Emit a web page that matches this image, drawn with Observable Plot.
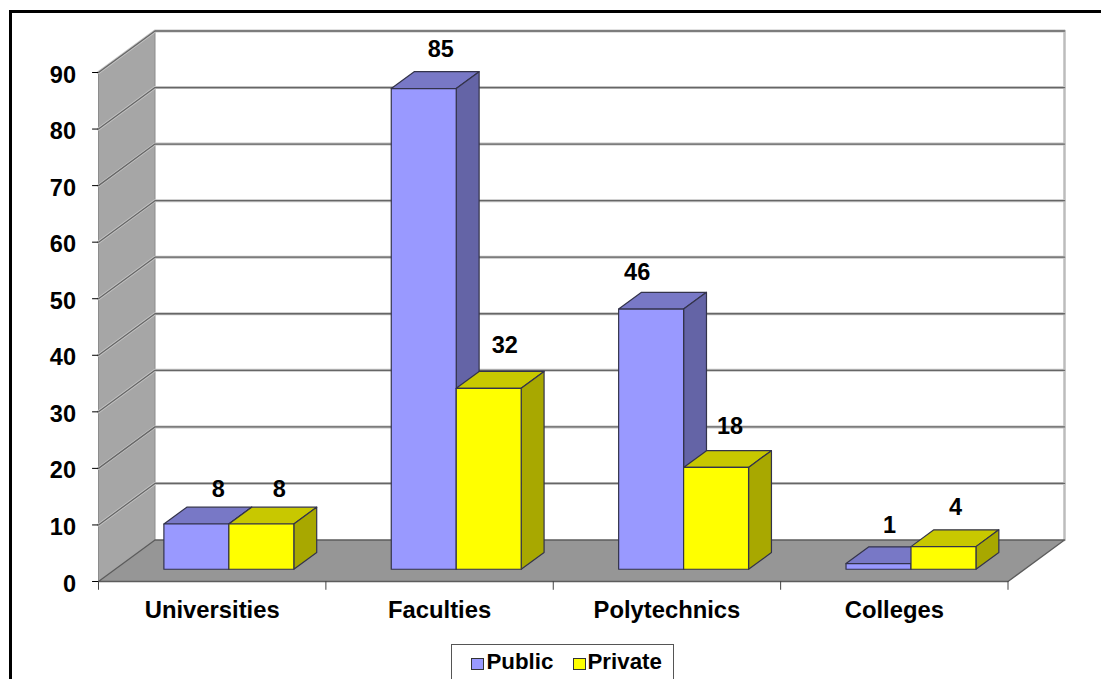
<!DOCTYPE html>
<html>
<head>
<meta charset="utf-8">
<script src="https://cdn.jsdelivr.net/npm/d3@7"></script>
<script src="https://cdn.jsdelivr.net/npm/@observablehq/plot@0.6"></script>
<style>
  html, body { margin: 0; padding: 0; background: #fff; }
  #figure {
    position: relative; width: 1101px; height: 679px; overflow: hidden;
    font-family: "Liberation Sans", Arial, sans-serif; font-weight: bold; color: #000;
  }
  #frame {
    position: absolute; left: 9px; top: 10px; width: 1200px; height: 800px;
    border: 3px solid #000; box-sizing: border-box;
  }
  #figure svg { position: absolute; left: 0; top: 0; background: transparent; }
  #legend {
    position: absolute; left: 451px; top: 644px; width: 223px; height: 50px;
    box-sizing: border-box; border: 1.5px solid #555; background: #fff; font-size: 22.3px;
  }
  #legend span { position: absolute; top: 4px; line-height: 26px; }
  #legend i {
    position: absolute; top: 12.5px; width: 11px; height: 10px;
    border: 1px solid #333; box-sizing: content-box;
  }
</style>
</head>
<body>
<div id="figure">
  <div id="frame"></div>
  <div id="legend"></div>
</div>
<script>
const categories = ["Universities", "Faculties", "Polytechnics", "Colleges"];
const publicValues = [8, 85, 46, 1];
const privateValues = [8, 32, 18, 4];
const seriesNames = ["Public", "Private"];
const yTicks = [0, 10, 20, 30, 40, 50, 60, 70, 80, 90];
const categoryEdges = [0, 1, 2, 3, 4];

// Oblique projection: one unit of depth moves a point this far in data units.
const depthX = 0.2485;
const depthY = 7.34;
const project = (c, v, d) => ({x: c + d * depthX, y: v + d * depthY});

const barWidth = 1 / 3.5;     // category share of one bar (gap width 75%)
const barStart = 0.75 / 3.5;  // space before the first bar in a category
const depthFront = 0.295, depthBack = 0.7;

const shades = {
  Public: {front: "#9999ff", top: "#7878c6", side: "#6464a6"},
  Private: {front: "#ffff00", top: "#c8c800", side: "#a8a800"}
};
// Label nudges in pixels from the top-front centre of each bar.
const labelNudge = {
  Public: [[22, -35], [17, -39], [-14, -37], [11, -38.5]],
  Private: [[18, -35], [16, -42.5], [14, -41], [12, -39.5]]
};

function polygon(rows, id, fill, corners) {
  corners.forEach(([c, v, d]) => rows.push({id, fill, ...project(c, v, d)}));
}

const barFaces = [];
categories.forEach((name, i) => {
  [publicValues, privateValues].forEach((values, s) => {
    const key = seriesNames[s], v = values[i], tone = shades[key];
    const x0 = i + barStart + s * barWidth, x1 = x0 + barWidth;
    const f = depthFront, b = depthBack;
    polygon(barFaces, `${name}-${key}-top`, tone.top, [[x0, v, f], [x1, v, f], [x1, v, b], [x0, v, b]]);
    polygon(barFaces, `${name}-${key}-side`, tone.side, [[x1, 0, f], [x1, v, f], [x1, v, b], [x1, 0, b]]);
    polygon(barFaces, `${name}-${key}-front`, tone.front, [[x0, 0, f], [x1, 0, f], [x1, v, f], [x0, v, f]]);
  });
});

const sideWall = [];
polygon(sideWall, "wall", "#a6a6a6", [[0, 0, 0], [0, 90, 0], [0, 90, 1], [0, 0, 1]]);
const floor = [];
polygon(floor, "floor", "#969696", [[0, 0, 0], [4, 0, 0], [4, 0, 1], [0, 0, 1]]);

const gridLines = yTicks.filter(v => v > 0).flatMap(v => [
  {v, ...project(0, v, 0)}, {v, ...project(0, v, 1)}, {v, ...project(4, v, 1)}
]);
const backRight = [project(4, 0, 1), project(4, 90, 1)];

const valueLabels = seriesNames.flatMap((key, s) =>
  categories.map((name, i) => {
    const v = (s ? privateValues : publicValues)[i];
    const at = project(i + barStart + (s + 0.5) * barWidth, v, depthFront);
    const [dx, dy] = labelNudge[key][i];
    return Plot.text([at], {
      x: "x", y: "y", dx, dy, text: () => String(v),
      fontSize: 23.5, fontWeight: "bold", fill: "#000"
    });
  })
);

const face = (rows, opts) => Plot.line(rows, {x: "x", y: "y", z: "id", curve: "linear-closed", ...opts});

const chart = Plot.plot({
  width: 1101, height: 640,
  marginLeft: 98, marginRight: 93.5, marginTop: 72, marginBottom: 59,
  style: {fontFamily: '"Liberation Sans", Arial, sans-serif', background: "transparent", overflow: "visible"},
  x: {domain: [0, 4]},
  y: {domain: [0, 90]},
  color: {type: "identity"},
  marks: [
    face(sideWall, {fill: "fill", stroke: "#8c8c8c", strokeWidth: 1}),
    Plot.line(backRight, {x: "x", y: "y", stroke: "#bcbcbc", strokeWidth: 2.5}),
    Plot.line(gridLines, {x: "x", y: "y", z: "v", stroke: "#c4c4c4", strokeWidth: 3}),
    Plot.line(gridLines, {x: "x", y: "y", z: "v", stroke: "#666", strokeWidth: 1.3}),
    face(floor, {fill: "fill", stroke: "#5c5c5c", strokeWidth: 1.3}),
    face(barFaces, {fill: "fill", stroke: "#33334a", strokeWidth: 1.2}),
    Plot.ruleX(categoryEdges, {y1: 0, y2: -1.55, stroke: "#444", strokeWidth: 1}),
    Plot.ruleY(yTicks, {x1: -0.026, x2: 0, stroke: "#000", strokeWidth: 1}),
    Plot.axisY({
      ticks: yTicks, label: null, tickSize: 0, tickPadding: 22.5, dy: 2.5,
      fontSize: 23.5, fontWeight: "bold", fill: "#000"
    }),
    Plot.axisX(categories.map((_, i) => i + 0.5), {
      anchor: "bottom", label: null, tickSize: 0, tickPadding: 19.5,
      tickFormat: c => categories[c - 0.5], fontSize: 23.8, fontWeight: "bold", fill: "#000"
    }),
    ...valueLabels
  ]
});
document.getElementById("figure").insertBefore(chart, document.getElementById("legend"));

// Legend box: swatch and name for each series.
const legend = document.getElementById("legend");
[["Public", 18.5, 34.5], ["Private", 120.5, 135.5]].forEach(([name, swatchLeft, textLeft]) => {
  const swatch = document.createElement("i");
  swatch.style.left = swatchLeft + "px";
  swatch.style.background = shades[name].front;
  const label = document.createElement("span");
  label.style.left = textLeft + "px";
  label.textContent = name;
  legend.append(swatch, label);
});
</script>
</body>
</html>
